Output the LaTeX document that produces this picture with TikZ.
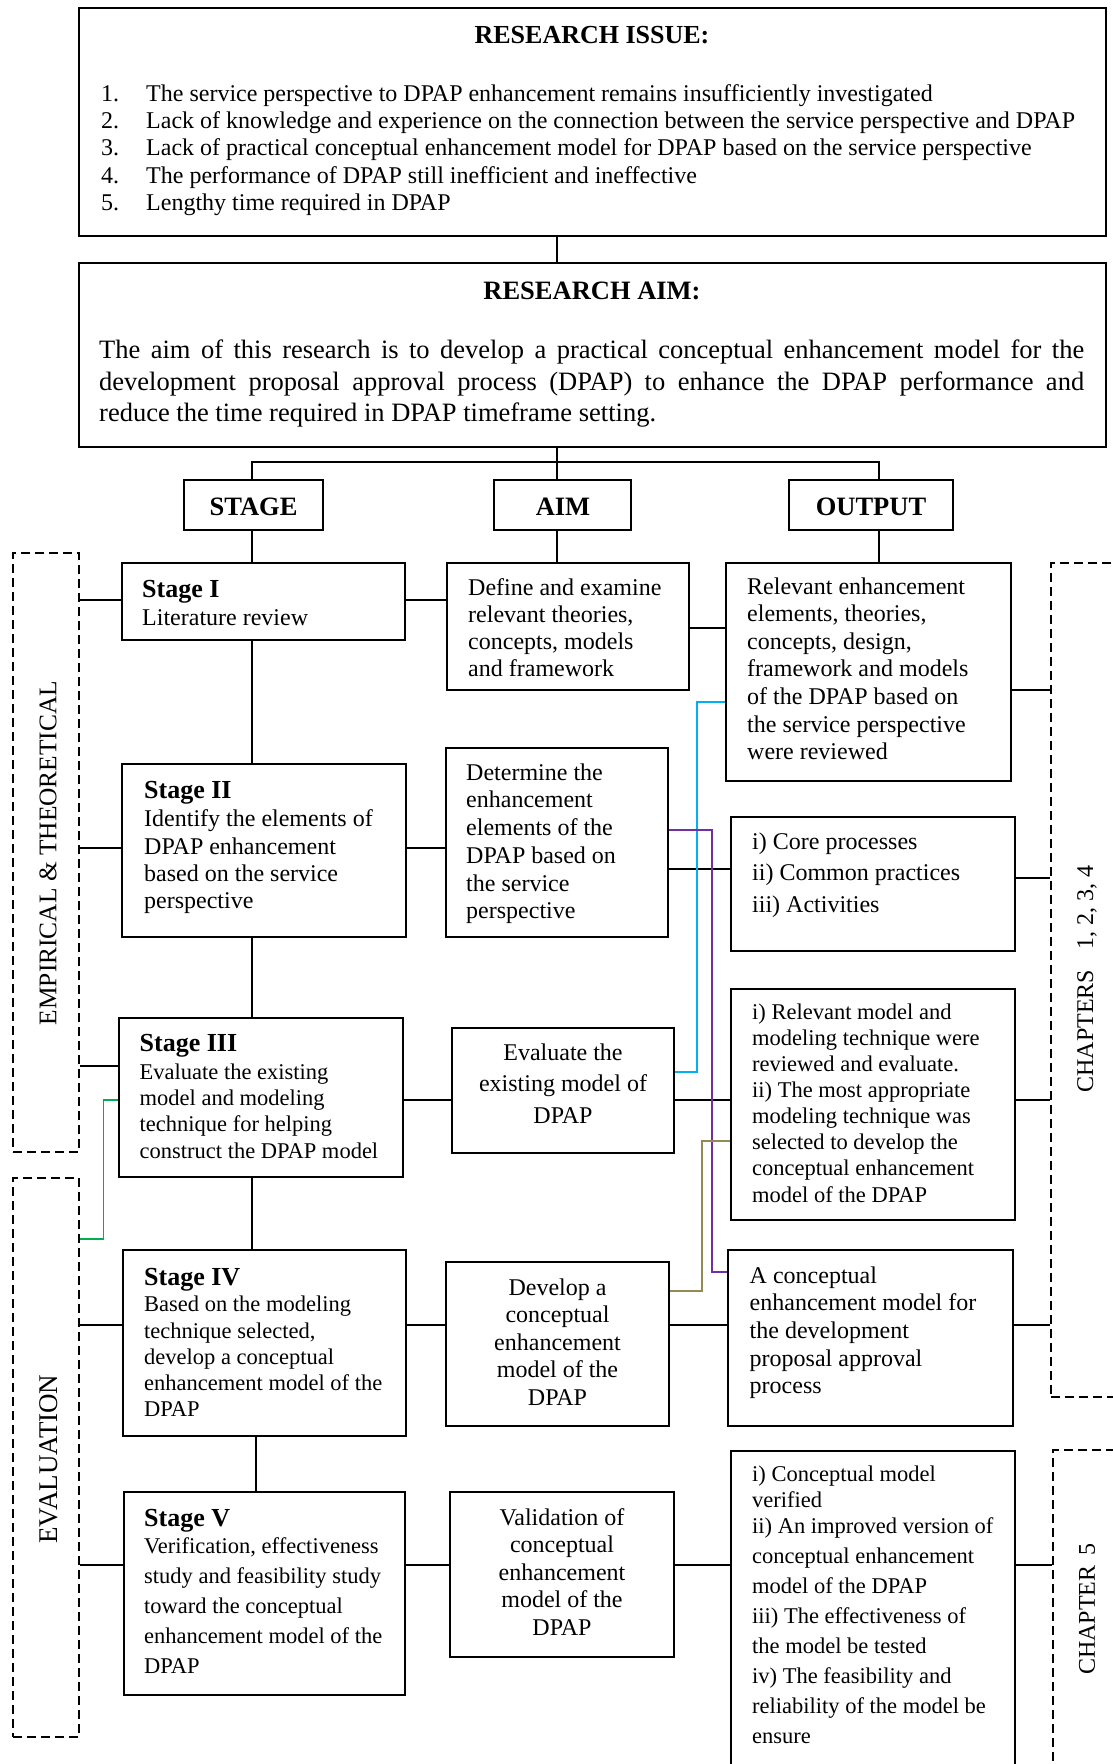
\documentclass[tikz,border=0pt]{standalone}
\usepackage{fontspec}
\setmainfont{Liberation Serif}
\usetikzlibrary{fit}
\newcommand{\myfs}[2]{\fontsize{#1}{#2}\selectfont}
\definecolor{cblue}{HTML}{00B0F0}
\definecolor{cpurple}{HTML}{7030A0}
\definecolor{colive}{HTML}{948A54}
\definecolor{cgreen}{HTML}{00B050}
\begin{document}
\begin{tikzpicture}[x=1pt,y=-1pt,
  box/.style={draw, line width=1.5pt, rectangle, inner sep=0pt},
  dbox/.style={draw, line width=1.5pt, dash pattern=on 9pt off 5pt, rectangle, inner sep=0pt},
  con/.style={line width=1.3pt},
  cl/.style={line width=1.6pt},
  txt/.style={inner sep=0pt, align=left, anchor=north west},
  ctxt/.style={inner sep=0pt, align=center, anchor=north},
  hd/.style={inner sep=0pt, anchor=base west, font=\myfs{26}{30}\bfseries},
  hdt/.style={inner sep=0pt, anchor=center, font=\myfs{26.5}{30}\bfseries},
  vlab/.style={inner sep=0pt, rotate=90, font=\myfs{24}{28}}
]
\useasboundingbox (0,0) rectangle (1113,1764);
\fill[white] (0,0) rectangle (1113,1764);
\clip (0,0) rectangle (1113,1764);

% ---------- boxes ----------
\node[box, fit={(79,8) (1106,236)}] (issue) {};
\node[box, fit={(79,263) (1106,447)}] (aimbox) {};
\node[box, fit={(184,480) (323,530)}] (hdS) {};
\node[box, fit={(494,480) (631,530)}] (hdA) {};
\node[box, fit={(789,480) (953,530)}] (hdO) {};
\node[hdt] (hdSt) at (253.5,507) {STAGE};
\node[hdt] (hdAt) at (563,507) {AIM};
\node[hdt] (hdOt) at (871,507) {OUTPUT};

\node[box, fit={(122,563) (405,640)}] (s1) {};
\node[box, fit={(122,764) (406,937)}] (s2) {};
\node[box, fit={(119,1018) (403,1177)}] (s3) {};
\node[box, fit={(123,1250) (406,1436)}] (s4) {};
\node[box, fit={(124,1492) (405,1695)}] (s5) {};

\node[box, fit={(447,563) (689,690)}] (a1) {};
\node[box, fit={(446,748) (668,937)}] (a2) {};
\node[box, fit={(452,1028) (674,1153)}] (a3) {};
\node[box, fit={(446,1262) (669,1426)}] (a4) {};
\node[box, fit={(450,1492) (674,1657)}] (a5) {};

\node[box, fit={(726,563) (1011,781)}] (o1) {};
\node[box, fit={(731,817) (1015,951)}] (o2) {};
\node[box, fit={(731,989) (1015,1220)}] (o3) {};
\node[box, fit={(728,1250) (1013,1426)}] (o4) {};
\node[box, fit={(731,1451) (1015,1800)}] (o5) {};

\node[dbox, fit={(13,553) (79,1152)}] (emp) {};
\node[dbox, fit={(13,1178) (79,1737)}] (eval) {};
\node[dbox, fit={(1051,563) (1140,1397)}] (chA) {};
\node[dbox, fit={(1053,1450) (1140,1800)}] (chB) {};

% ---------- texts ----------
\node[anchor=base, inner sep=0pt, font=\myfs{26}{30}\bfseries] (issuet) at (592,43) {RESEARCH ISSUE:};
\node[txt, font=\myfs{24}{27.3}] (issuel) at (101,81.9) {\strut\makebox[45pt][l]{1.}The service perspective to DPAP enhancement remains insufficiently investigated\\
\makebox[45pt][l]{2.}Lack of knowledge and experience on the connection between the service perspective and DPAP\\
\makebox[45pt][l]{3.}Lack of practical conceptual enhancement model for DPAP based on the service perspective\\
\makebox[45pt][l]{4.}The performance of DPAP still inefficient and ineffective\\
\makebox[45pt][l]{5.}Lengthy time required in DPAP};

\node[anchor=base, inner sep=0pt, font=\myfs{26.5}{30}\bfseries] (aimt) at (592,299) {RESEARCH AIM:};
\node[anchor=north west, inner sep=0pt, text width=985pt, align=justify, font=\myfs{26.5}{31.5}] (aimp) at (99,336.45) {\noindent\strut The aim of this research is to develop a practical conceptual enhancement model for the\linebreak development proposal approval process (DPAP) to enhance the DPAP performance and\linebreak reduce the time required in DPAP timeframe setting.};

\node[hd] (s1h) at (142,597.7) {Stage I};
\node[txt, font=\myfs{24}{27.5}] (s1b) at (142,605.75) {\strut Literature review};
\node[hd] (s2h) at (144,798.3) {Stage II};
\node[txt, font=\myfs{24}{27.2}] (s2b) at (144,807.7) {\strut Identify the elements of\\DPAP enhancement\\based on the service\\perspective};
\node[hd] (s3h) at (139.5,1051) {Stage III};
\node[txt, font=\myfs{22.5}{26.3}] (s3b) at (139.5,1060.6) {\strut Evaluate the existing\\model and modeling\\technique for helping\\construct the DPAP model};
\node[hd] (s4h) at (144,1285) {Stage IV};
\node[txt, font=\myfs{22.5}{26.25}] (s4b) at (144,1293.3) {\strut Based on the modeling\\technique selected,\\develop a conceptual\\enhancement model of the\\DPAP};
\node[hd] (s5h) at (144,1526.7) {Stage V};
\node[txt, font=\myfs{22.5}{30}] (s5b) at (144,1532) {\strut Verification, effectiveness\\study and feasibility study\\toward the conceptual\\enhancement model of the\\DPAP};

\node[txt, font=\myfs{24}{27.2}] (a1t) at (468,576) {\strut Define and examine\\relevant theories,\\concepts, models\\and framework};
\node[txt, font=\myfs{24}{27.7}] (a2t) at (466,760.6) {\strut Determine the\\enhancement\\elements of the\\DPAP based on\\the service\\perspective};
\node[ctxt, font=\myfs{24}{31.5}] (a3t) at (563,1038) {\strut Evaluate the\\existing model of\\DPAP};
\node[ctxt, font=\myfs{24}{27.5}] (a4t) at (557.5,1275.75) {\strut Develop a\\conceptual\\enhancement\\model of the\\DPAP};
\node[ctxt, font=\myfs{24}{27.5}] (a5t) at (562,1505.75) {\strut Validation of\\conceptual\\enhancement\\model of the\\DPAP};

\node[txt, font=\myfs{24}{27.57}] (o1t) at (747,574.7) {\strut Relevant enhancement\\elements, theories,\\concepts, design,\\framework and models\\of the DPAP based on\\the service perspective\\were reviewed};
\node[txt, font=\myfs{24}{31.5}] (o2t) at (752,827) {\strut i) Core processes\\ii) Common practices\\iii) Activities};
\node[txt, font=\myfs{22.5}{26.04}] (o3t) at (752,1001.3) {\strut i) Relevant model and\\modeling technique were\\reviewed and evaluate.\\ii) The most appropriate\\modeling technique was\\selected to develop the\\conceptual enhancement\\model of the DPAP};
\node[txt, font=\myfs{24}{27.6}] (o4t) at (749.5,1263.7) {\strut A conceptual\\enhancement model for\\the development\\proposal approval\\process};
\node[txt, font=\myfs{22.5}{30}] (o5t) at (752,1460.7) {\strut i) Conceptual model\\[-4.7pt]verified\\[-4pt]ii) An improved version of\\conceptual enhancement\\model of the DPAP\\iii) The effectiveness of\\the model be tested\\iv) The feasibility and\\reliability of the model be\\ensure};

\node[vlab, font=\myfs{25.4}{28}] (empt) at (48,853) {EMPIRICAL \& THEORETICAL};
\node[vlab, font=\myfs{27}{30}] (evalt) at (49,1459) {EVALUATION};
\node[vlab] (chAt) at (1087,979) {CHAPTERS\hspace{20pt}1, 2, 3, 4};
\node[vlab] (chBt) at (1087,1609) {CHAPTER\hspace{10pt}5};

% ---------- connectors ----------
\coordinate (xS) at (252,0);
\coordinate (xA) at (557,0);
\coordinate (xO) at (879,0);
\coordinate (x45) at (256,0);
\coordinate (yT) at (0,462);
\draw[con] (issue.south -| xA) -- (aimbox.north -| xA);
\draw[con] (aimbox.south -| xA) -- (xA |- yT);
\draw[con] (hdS.north -| xS) -- (xS |- yT) -- (xO |- yT) -- (hdO.north -| xO);
\draw[con] (xA |- yT) -- (hdA.north -| xA);
\draw[con] (hdS.south -| xS) -- (s1.north -| xS);
\draw[con] (hdA.south -| xA) -- (a1.north -| xA);
\draw[con] (hdO.south -| xO) -- (o1.north -| xO);
\draw[con] (s1.south -| xS) -- (s2.north -| xS);
\draw[con] (s2.south -| xS) -- (s3.north -| xS);
\draw[con] (s3.south -| xS) -- (s4.north -| xS);
\draw[con] (s4.south -| x45) -- (s5.north -| x45);

\coordinate (r1a) at (0,600);
\coordinate (r1b) at (0,628);
\coordinate (r1c) at (0,690);
\coordinate (r2a) at (0,848);
\coordinate (r2b) at (0,869);
\coordinate (r2c) at (0,878);
\coordinate (r3a) at (0,1066);
\coordinate (r3b) at (0,1100);
\coordinate (r4) at (0,1325);
\coordinate (r5) at (0,1565);

\draw[con] (emp.east |- r1a) -- (s1.west |- r1a);
\draw[con] (s1.east |- r1a) -- (a1.west |- r1a);
\draw[con] (a1.east |- r1b) -- (o1.west |- r1b);
\draw[con] (o1.east |- r1c) -- (chA.west |- r1c);

\draw[con] (emp.east |- r2a) -- (s2.west |- r2a);
\draw[con] (s2.east |- r2a) -- (a2.west |- r2a);
\draw[con] (a2.east |- r2b) -- (o2.west |- r2b);
\draw[con] (o2.east |- r2c) -- (chA.west |- r2c);

\draw[con] (emp.east |- r3a) -- (s3.west |- r3a);
\draw[con] (s3.east |- r3b) -- (a3.west |- r3b);
\draw[con] (a3.east |- r3b) -- (o3.west |- r3b);
\draw[con] (o3.east |- r3b) -- (chA.west |- r3b);

\draw[con] (eval.east |- r4) -- (s4.west |- r4);
\draw[con] (s4.east |- r4) -- (a4.west |- r4);
\draw[con] (a4.east |- r4) -- (o4.west |- r4);
\draw[con] (o4.east |- r4) -- (chA.west |- r4);

\draw[con] (eval.east |- r5) -- (s5.west |- r5);
\draw[con] (s5.east |- r5) -- (a5.west |- r5);
\draw[con] (a5.east |- r5) -- (o5.west |- r5);
\draw[con] (o5.east |- r5) -- (chB.west |- r5);

% ---------- coloured links ----------
\coordinate (b1) at (697,1072);
\coordinate (b2) at (697,702);
\draw[cl, cblue] (a3.east |- b1) -- (b1) -- (b2) -- (o1.west |- b2);
\coordinate (p1) at (712,830);
\coordinate (p2) at (712,1272);
\draw[cl, cpurple] (a2.east |- p1) -- (p1) -- (p2) -- (o4.west |- p2);
\coordinate (q1) at (702,1291);
\coordinate (q2) at (702,1141);
\draw[cl, colive] (a4.east |- q1) -- (q1) -- (q2) -- (o3.west |- q2);
\coordinate (g1) at (103.5,1239);
\coordinate (g2) at (103.5,1100);
\draw[cl, cgreen] (eval.east |- g1) -- (g1) -- (g2) -- (s3.west |- g2);
\end{tikzpicture}
\end{document}
